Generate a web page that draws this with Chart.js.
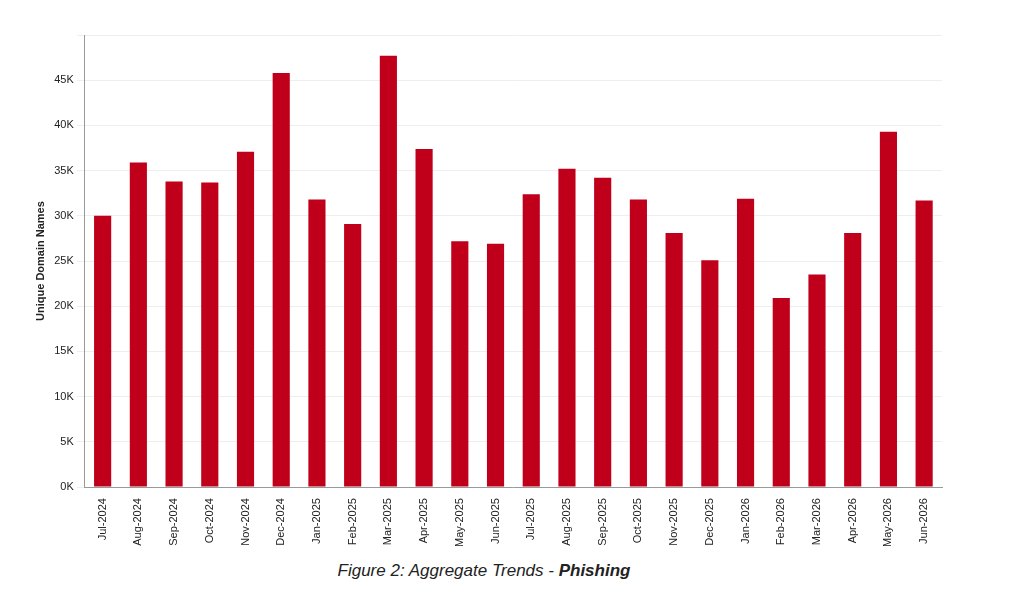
<!DOCTYPE html>
<html><head><meta charset="utf-8">
<script src="https://cdn.jsdelivr.net/npm/chart.js@4"></script>
<style>body{margin:0;background:#fff;width:1024px;height:611px;overflow:hidden;font-family:"Liberation Sans",Arial,sans-serif}
#w{position:absolute;left:0;top:0;width:1024px;height:550px}
#cap{position:absolute;top:561px;left:0;width:968px;text-align:center;font-style:italic;font-size:17px;color:#222}</style>
</head><body>
<div id="w"><canvas id="c"></canvas></div>
<div id="cap">Figure 2: Aggregate Trends - <b>Phishing</b></div>
<script>
const categories=["Jul-2024","Aug-2024","Sep-2024","Oct-2024","Nov-2024","Dec-2024","Jan-2025","Feb-2025","Mar-2025","Apr-2025","May-2025","Jun-2025","Jul-2025","Aug-2025","Sep-2025","Oct-2025","Nov-2025","Dec-2025","Jan-2026","Feb-2026","Mar-2026","Apr-2026","May-2026","Jun-2026"];
const values=[30000,35900,33800,33700,37100,45800,31800,29100,47700,37400,27200,26900,32400,35200,34200,31800,28100,25100,31900,20900,23500,28100,39300,31700];
new Chart(document.getElementById('c'),{type:'bar',
data:{labels:categories,datasets:[{data:values,backgroundColor:'#c0001a',categoryPercentage:1,barPercentage:0.48}]},
options:{responsive:true,maintainAspectRatio:false,animation:false,
layout:{padding:{left:30,right:82,top:35,bottom:0}},
plugins:{legend:{display:false},tooltip:{enabled:false}},
scales:{x:{grid:{display:false},border:{color:'#999'},ticks:{color:'#222',font:{size:11},maxRotation:90,minRotation:90}},
y:{min:0,max:50000,grid:{color:'#eee'},border:{color:'#999'},ticks:{stepSize:5000,color:'#222',font:{size:11},callback:v=>v<50000?(v/1000)+'K':''},
title:{display:true,text:'Unique Domain Names',color:'#222',font:{size:11,weight:'bold'}}}}}});
</script></body></html>
